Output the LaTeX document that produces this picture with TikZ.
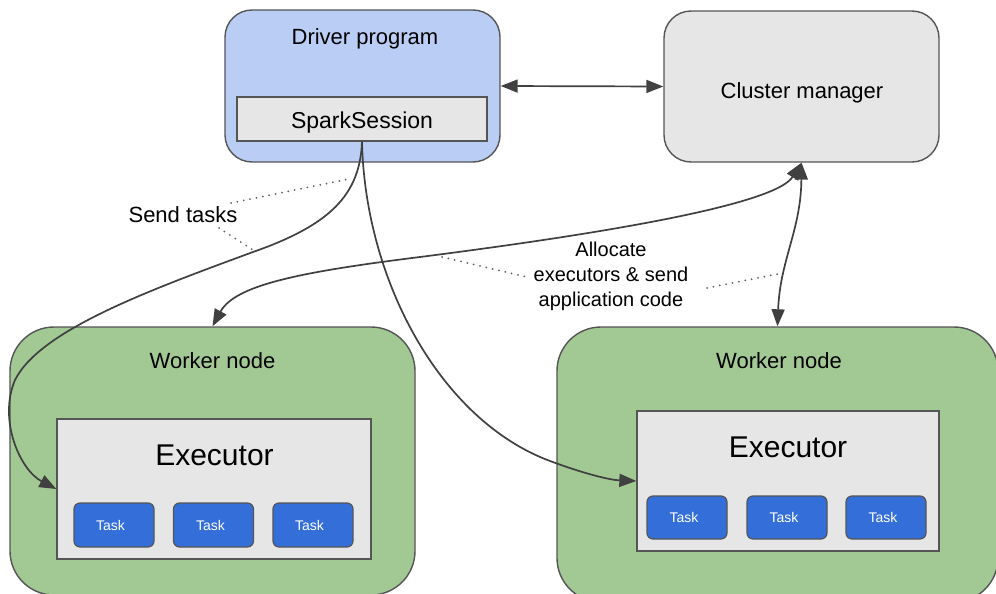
\documentclass[tikz,border=0pt]{standalone}
\usepackage{fontspec}
\setmainfont{Liberation Sans}
\usetikzlibrary{arrows.meta}
\definecolor{drvblue}{RGB}{186,206,245}
\definecolor{wgreen}{RGB}{162,201,148}
\definecolor{lgray}{RGB}{230,230,230}
\definecolor{taskblue}{RGB}{52,111,217}
\definecolor{bordergray}{RGB}{85,85,85}
\definecolor{linegray}{RGB}{64,64,64}
\definecolor{dotgray}{RGB}{95,95,95}
\begin{document}
\begin{tikzpicture}[x=1pt,y=-1pt,
  bigbox/.style={draw=bordergray,line width=1.4pt,inner sep=0pt},
  sqbox/.style={draw=bordergray,line width=1.3pt,inner sep=0pt,fill=lgray},
  taskbox/.style={draw=bordergray,line width=1.2pt,fill=taskblue,rounded corners=6pt,
    inner sep=0pt,minimum width=80pt,minimum height=43pt,text=white,
    font=\fontsize{14}{16}\selectfont},
  tasktxt/.style={inner sep=0pt,text=white,font=\fontsize{14}{16}\selectfont},
  lbl/.style={inner sep=0pt,font=\fontsize{22}{26}\selectfont},
  conn/.style={draw=linegray,line width=1.7pt},
  tip/.style={-{Triangle[length=17pt,width=13pt]}},
  twotip/.style={{Triangle[length=17pt,width=13pt]}-{Triangle[length=17pt,width=13pt]}},
  dotline/.style={draw=dotgray,line width=2pt,line cap=round,dash pattern=on 0pt off 6.5pt}
]
\useasboundingbox (0,0) rectangle (996,594);
\clip (0,0) rectangle (996,594);

% Driver program
\node[bigbox,fill=drvblue,rounded corners=27pt,minimum width=275pt,minimum height=152pt] (dp) at (362.5,86) {};
\node[lbl,anchor=base] (dptxt) at (365,45) {Driver program};
\node[sqbox,minimum width=250pt,minimum height=44pt] (ss) at (362,119) {};
\node[lbl,anchor=base,font=\fontsize{23}{27}\selectfont] (sstxt) at (362,128) {SparkSession};

% Cluster manager
\node[bigbox,fill=lgray,rounded corners=27pt,minimum width=275pt,minimum height=151pt] (cm) at (801.5,86.5) {};
\node[lbl,anchor=base] (cmtxt) at (802,98) {Cluster manager};

% Worker nodes
\node[bigbox,fill=wgreen,rounded corners=44pt,minimum width=405pt,minimum height=268pt] (w1) at (212.5,461) {};
\node[lbl,anchor=base] (w1txt) at (212.5,368) {Worker node};
\node[bigbox,fill=wgreen,rounded corners=44pt,minimum width=441pt,minimum height=275pt] (w2) at (777.5,464.5) {};
\node[lbl,anchor=base] (w2txt) at (779,368) {Worker node};

% Executors
\node[sqbox,minimum width=314pt,minimum height=140pt] (ex1) at (214,489) {};
\node[lbl,anchor=base,font=\fontsize{30}{34}\selectfont] (ex1txt) at (214.5,465) {Executor};
\node[sqbox,minimum width=302pt,minimum height=140pt] (ex2) at (788,481) {};
\node[lbl,anchor=base,font=\fontsize{30}{34}\selectfont] (ex2txt) at (788,457) {Executor};

% Tasks
\node[taskbox,minimum height=44pt] (t11) at (114,525) {};
\node[taskbox,minimum height=44pt] (t12) at (213.5,525) {};
\node[taskbox,minimum height=44pt] (t13) at (313,525) {};
\node[taskbox] (t21) at (687,517.5) {};
\node[taskbox] (t22) at (787,517.5) {};
\node[taskbox] (t23) at (886,517.5) {};
\node[tasktxt] (t11txt) at (110.5,525) {Task};
\node[tasktxt] (t12txt) at (210.5,525) {Task};
\node[tasktxt] (t13txt) at (309.5,525) {Task};
\node[tasktxt] (t21txt) at (684,517.5) {Task};
\node[tasktxt] (t22txt) at (784,517.5) {Task};
\node[tasktxt] (t23txt) at (883,517.5) {Task};

% Driver <-> Cluster manager
\draw[conn,twotip] (dp.east) -- (cm.west);

% Send tasks to left executor
\draw[conn,tip] (ss.south) .. controls (360,195) and (330,225) .. (253,252)
  .. controls (150,290) and (40,330) .. (15,380)
  .. controls (-2,420) and (20,470) .. (ex1.west);

% Send tasks to right executor
\draw[conn,tip] (ss.south) .. controls (365,280) and (440,420) .. (550,461)
  .. controls (585,474) and (610,480) .. (ex2.west);

% Cluster manager <-> left worker
\draw[conn,twotip] (w1.north) .. controls (235,285) and (300,272) .. (420,257)
  .. controls (600,234) and (775,205) .. (cm.south);

% Cluster manager <-> right worker
\draw[conn,twotip] (cm.south) .. controls (801,230) and (780,260) .. (w2.north);

% Labels
\node[lbl] (sendtasks) at (183,215) {Send tasks};
\node[inner sep=0pt,align=center,font=\fontsize{20}{25}\selectfont] (alloc) at (611,276)
  {Allocate\\executors \& send\\application code};

\coordinate (st1) at (231,203);
\coordinate (st2) at (349,179);
\coordinate (st3) at (219,228);
\coordinate (st4) at (253,250);
\coordinate (al1) at (442,257);
\coordinate (al2) at (527,277);
\coordinate (al3) at (707,288);
\coordinate (al4) at (783,273);
\draw[dotline] (st1) -- (st2);
\draw[dotline] (st3) -- (st4);
\draw[dotline] (al1) -- (al2);
\draw[dotline] (al3) -- (al4);
\end{tikzpicture}
\end{document}
